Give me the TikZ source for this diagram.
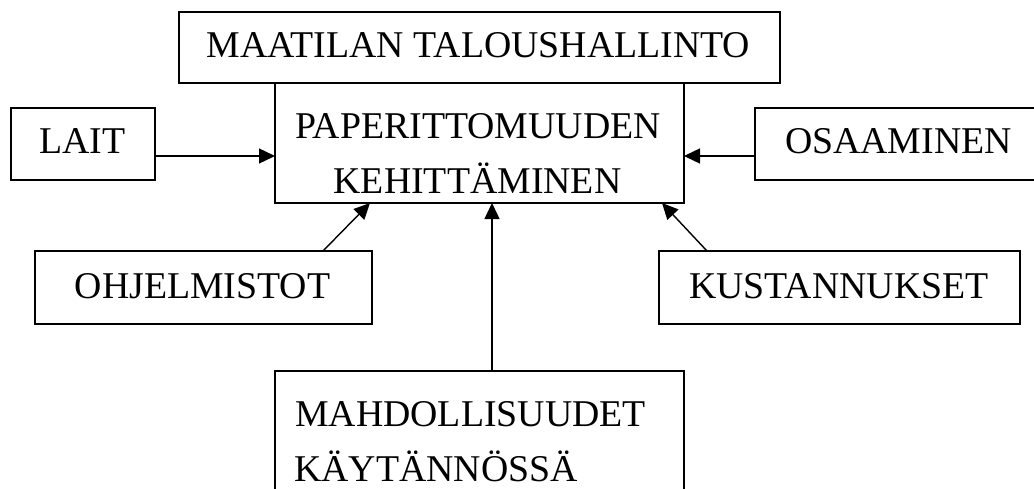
\documentclass[tikz,border=0pt]{standalone}
\usepackage{fontspec}
\setmainfont{Liberation Serif}
\usetikzlibrary{arrows.meta}
\begin{document}
\begin{tikzpicture}[x=1pt,y=-1pt,
  boxnode/.style={draw=black,line width=1.4pt,inner sep=0pt,outer sep=0pt,fill=white},
  txt/.style={inner sep=0pt,font=\fontsize{37.8}{44}\selectfont},
  arr/.style={line width=1.4pt,-{Triangle[length=16pt,width=15pt]}}]
\clip (0,0) rectangle (1034,488);
\fill[white] (0,0) rectangle (1034,488);
% boxes
\node[boxnode,minimum width=601pt,minimum height=71pt] (top) at (479.5,47.5) {};
\node[boxnode,minimum width=409pt,minimum height=120pt] (center) at (479.5,143) {};
\node[boxnode,minimum width=144pt,minimum height=72pt] (lait) at (83,144) {};
\node[boxnode,minimum width=287pt,minimum height=72pt] (osa) at (898.5,144) {};
\node[boxnode,minimum width=337pt,minimum height=73pt] (ohj) at (203.5,287.5) {};
\node[boxnode,minimum width=361pt,minimum height=73pt] (kus) at (839.5,287.5) {};
\node[boxnode,minimum width=409pt,minimum height=130pt] (mah) at (479.5,436) {};
% texts
\node[txt,anchor=base] (ttop) at (478.5,57) {MAATILAN TALOUSHALLINTO};
\node[txt,anchor=base] (tc1) at (478,138) {PAPERITTOMUUDEN};
\node[txt,anchor=base] (tc2) at (477.5,193) {KEHITTÄMINEN};
\node[txt,anchor=base] (tlait) at (82.5,153) {LAIT};
\node[txt,anchor=base] (tosa) at (898.5,153) {OSAAMINEN};
\node[txt,anchor=base] (tohj) at (202.5,298) {OHJELMISTOT};
\node[txt,anchor=base] (tkus) at (839,298) {KUSTANNUKSET};
\node[txt,anchor=base west] (tm1) at (295,426) {MAHDOLLISUUDET};
\node[txt,anchor=base west] (tm2) at (294,481) {KÄYTÄNNÖSSÄ};
% connectors
\draw[arr] ([yshift=-12pt]lait.east) -- ([yshift=-13pt]center.west);
\draw[arr] ([yshift=-12pt]osa.west) -- ([yshift=-13pt]center.east);
\draw[arr] ([xshift=119.5pt]ohj.north) -- ([xshift=-109.5pt]center.south);
\draw[arr] ([xshift=-132.5pt]kus.north) -- ([xshift=182.5pt]center.south);
\draw[arr] ([xshift=12.5pt]mah.north) -- ([xshift=12.5pt]center.south);
\end{tikzpicture}
\end{document}
